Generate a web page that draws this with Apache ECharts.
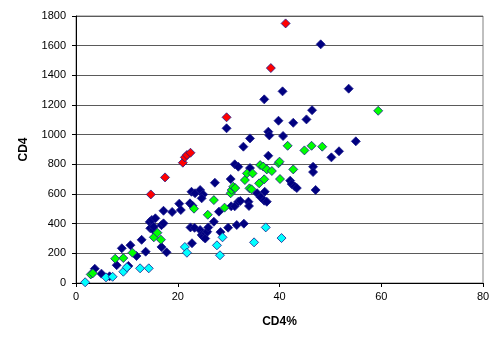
<!DOCTYPE html>
<html>
<head>
<meta charset="utf-8">
<script src="https://cdn.jsdelivr.net/npm/echarts@6/dist/echarts.min.js"></script>
<style>
  html, body { margin: 0; padding: 0; background: #fff; }
  #chart { width: 500px; height: 337px; }
</style>
</head>
<body>
<div id="chart"></div>
<script>
// [CD4%, CD4] pairs
var navyPoints = [
  [3.7, 96], [5.0, 63], [6.6, 45], [8.0, 120], [9.0, 234], [10.3, 115], [10.7, 255], [11.9, 182],
  [12.9, 291], [13.7, 211], [14.5, 412], [14.9, 425], [15.6, 436], [14.6, 369], [15.2, 357],
  [15.3, 379], [16.8, 390], [16.8, 243], [17.8, 207], [17.2, 487], [17.2, 402], [18.9, 479],
  [20.3, 535], [20.6, 492], [22.4, 537], [22.9, 521], [22.8, 268], [22.7, 615], [23.4, 605],
  [24.4, 627], [25.0, 597], [24.7, 571], [22.5, 375], [23.3, 372], [24.4, 357], [24.7, 324],
  [25.0, 312], [25.5, 335], [25.4, 300], [25.8, 346], [26.0, 375], [27.1, 413], [27.3, 676],
  [28.1, 481], [28.4, 343], [29.9, 373], [29.6, 1043], [30.4, 701], [30.5, 517], [31.2, 517],
  [31.9, 548], [32.3, 553], [31.2, 800], [31.9, 784], [31.6, 391], [33.0, 400], [32.9, 919],
  [33.9, 548], [34.0, 519], [34.2, 775], [34.2, 975], [35.6, 605], [36.3, 578], [37.1, 615],
  [37.0, 555], [37.5, 548], [37.0, 1238], [37.8, 858], [37.8, 1020], [38.0, 995], [39.8, 1094],
  [40.6, 1292], [40.7, 991], [42.1, 690], [42.4, 667], [43.0, 650], [43.4, 640], [42.7, 1080],
  [45.3, 1103], [46.4, 1165], [46.6, 784], [46.6, 748], [47.1, 627], [48.1, 1609], [50.2, 847],
  [51.7, 888], [53.6, 1310], [55.0, 955]
];
var greenPoints = [
  [2.9, 58], [3.3, 65], [7.7, 164], [9.3, 168], [11.1, 204], [15.3, 308], [16.0, 339], [16.7, 292],
  [23.2, 501], [25.9, 460], [27.1, 559], [29.2, 508], [30.4, 605], [30.6, 627], [30.9, 649],
  [31.3, 640], [33.2, 694], [33.6, 739], [34.1, 638], [34.5, 632], [34.7, 739], [36.0, 672],
  [36.2, 795], [36.8, 785], [37.0, 699], [37.5, 766], [38.5, 755], [39.8, 807], [40.0, 818],
  [40.1, 701], [41.6, 925], [42.7, 766], [44.9, 894], [46.3, 925], [48.4, 919], [59.4, 1161]
];
var redPoints = [
  [14.7, 597], [17.5, 712], [21.0, 811], [21.4, 847], [21.8, 863], [22.5, 878],
  [29.6, 1117], [38.3, 1449], [41.2, 1750]
];
var cyanPoints = [
  [1.8, 5], [5.9, 38], [7.2, 42], [9.3, 76], [10.0, 106], [12.6, 99], [14.3, 99], [21.4, 243],
  [21.8, 204], [27.7, 254], [28.3, 187], [28.8, 308], [35.0, 274], [37.3, 375], [40.4, 303]
];

var xTicks = [0, 20, 40, 60, 80];
var yTicks = [0, 200, 400, 600, 800, 1000, 1200, 1400, 1600, 1800];

var chart = echarts.init(document.getElementById('chart'));

function mkSeries(data, fill) {
  return {
    type: 'scatter',
    data: data,
    symbol: 'diamond',
    symbolSize: 9,
    itemStyle: { color: fill, borderColor: '#1a1a8c', borderWidth: 0.8, opacity: 1 },
    animation: false
  };
}

var axisFont = { fontFamily: 'Liberation Sans, Arial, sans-serif', fontSize: 11, color: '#000' };

chart.setOption({
  backgroundColor: '#fff',
  grid: { left: 76, right: 17, top: 16, bottom: 54, show: true, borderColor: '#808080', borderWidth: 1 },
  xAxis: {
    type: 'value',
    min: xTicks[0], max: xTicks[xTicks.length - 1], interval: 20,
    name: 'CD4%', nameLocation: 'middle', nameGap: 33,
    nameTextStyle: { fontFamily: 'Liberation Sans, Arial, sans-serif', fontSize: 12, fontWeight: 'bold', color: '#000' },
    axisLine: { show: true, lineStyle: { color: '#000', width: 1 } },
    axisTick: { show: true, inside: false, length: 4, lineStyle: { color: '#000' } },
    axisLabel: Object.assign({ margin: 8 }, axisFont),
    splitLine: { show: false }
  },
  yAxis: {
    type: 'value',
    min: yTicks[0], max: yTicks[yTicks.length - 1], interval: 200,
    name: 'CD4', nameLocation: 'middle', nameGap: 46, nameRotate: 90,
    nameTextStyle: { fontFamily: 'Liberation Sans, Arial, sans-serif', fontSize: 12, fontWeight: 'bold', color: '#000' },
    axisLine: { show: true, lineStyle: { color: '#000', width: 1 } },
    axisTick: { show: true, inside: false, length: 4, lineStyle: { color: '#000' } },
    axisLabel: Object.assign({ margin: 10, formatter: function (v) { return String(v); } }, axisFont),
    splitLine: { show: true, lineStyle: { color: '#5a5a5a', width: 1 } }
  },
  series: [
    mkSeries(navyPoints, '#000080'),
    mkSeries(greenPoints, '#00ff00'),
    mkSeries(redPoints, '#ff0000'),
    mkSeries(cyanPoints, '#00ffff')
  ]
});
</script>
</body>
</html>
